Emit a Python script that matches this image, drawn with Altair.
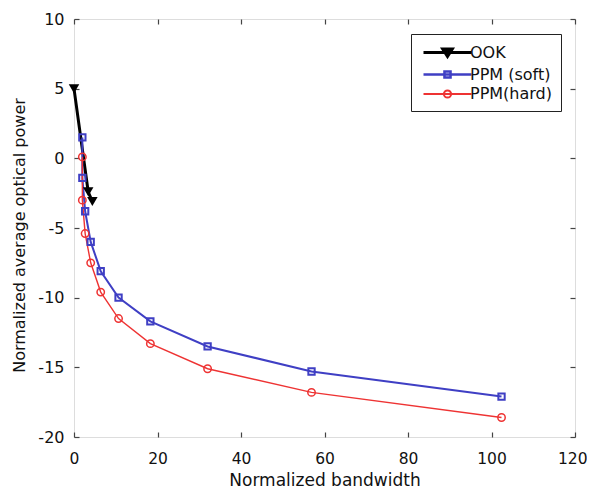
import altair as alt
import pandas as pd

# ---- data ----
x_ticks = [0, 20, 40, 60, 80, 100, 120]
y_ticks = [-20, -15, -10, -5, 0, 5, 10]

ook_bw = [0.0, 3.4, 4.4]
ook_pw = [5.0, -2.4, -3.1]

ppm_bw = [2.0, 2.0, 2.67, 4.0, 6.4, 10.67, 18.29, 32.0, 56.89, 102.4]
soft_pw = [1.5, -1.4, -3.8, -6.0, -8.1, -10.0, -11.7, -13.5, -15.3, -17.1]
hard_pw = [0.1, -3.0, -5.4, -7.5, -9.6, -11.5, -13.3, -15.1, -16.8, -18.6]

series = ["OOK", "PPM (soft)", "PPM(hard)"]
colors = ["#000000", "#3f3fc4", "#ee3333"]

W, H = 501, 418
FONT = "DejaVu Sans"
MINUS = "replace(datum.label, '\u2212', '-')"
LAST_X = "datum.value == 120"

ook_df = pd.DataFrame({"bw": ook_bw, "pw": ook_pw, "i": range(len(ook_bw))})
soft_df = pd.DataFrame({"bw": ppm_bw, "pw": soft_pw, "i": range(len(ppm_bw))})
hard_df = pd.DataFrame({"bw": ppm_bw, "pw": hard_pw, "i": range(len(ppm_bw))})
leg_df = pd.DataFrame({"series": series, "bw": [0.0] * 3, "pw": [0.0] * 3})

xs = alt.Scale(domain=[0, 120], nice=False, zero=False)
ys = alt.Scale(domain=[-20, 10], nice=False, zero=False)

ax_x_main = alt.Axis(orient="bottom", values=x_ticks, ticks=False, domain=False, grid=False,
                     title="Normalized bandwidth", labelPadding=14, titlePadding=6,
                     labelFlush=False, labelExpr=MINUS,
                     labelAlign={"condition": {"test": LAST_X, "value": "right"},
                                 "value": "center"},
                     labelOffset={"condition": {"test": LAST_X, "value": 12}, "value": 0},
                     labelFont=FONT, labelFontSize=15.5, titleFont=FONT, titleFontSize=17,
                     titleFontWeight="normal", labelColor="#111111", titleColor="#111111")
ax_x_in_b = alt.Axis(orient="top", offset=-H, values=x_ticks, labels=False, domain=False,
                     grid=False, title=None, tickSize=5, tickColor="#444444", tickWidth=1.2)
ax_x_in_t = alt.Axis(orient="bottom", offset=-H, values=x_ticks, labels=False, domain=False,
                     grid=False, title=None, tickSize=5, tickColor="#444444", tickWidth=1.2)

ax_y_main = alt.Axis(orient="left", values=y_ticks, ticks=False, domain=False, grid=False,
                     title="Normalized average optical power", labelPadding=10, titlePadding=10,
                     titleY=216,
                     labelFlush=False, labelExpr=MINUS,
                     labelFont=FONT, labelFontSize=16, titleFont=FONT, titleFontSize=16,
                     titleFontWeight="normal", labelColor="#111111", titleColor="#111111")
ax_y_in_l = alt.Axis(orient="right", offset=-W, values=y_ticks, labels=False, domain=False,
                     grid=False, title=None, tickSize=5, tickColor="#444444", tickWidth=1.2)
ax_y_in_r = alt.Axis(orient="left", offset=-W, values=y_ticks, labels=False, domain=False,
                     grid=False, title=None, tickSize=5, tickColor="#444444", tickWidth=1.2)


def xenc(axis):
    return alt.X("bw:Q", scale=xs, axis=axis)


def yenc(axis):
    return alt.Y("pw:Q", scale=ys, axis=axis)


ook_line = alt.Chart(ook_df).mark_line(color=colors[0], strokeWidth=3).encode(
    x=xenc(ax_x_main), y=yenc(ax_y_main), order="i:Q")
ook_pts = alt.Chart(ook_df).mark_point(shape="triangle-down", filled=True, color=colors[0],
                                       size=110, opacity=1).encode(
    x=xenc(ax_x_in_b), y=yenc(ax_y_in_l))

soft_line = alt.Chart(soft_df).mark_line(color=colors[1], strokeWidth=2).encode(
    x=xenc(ax_x_in_t), y=yenc(ax_y_in_r), order="i:Q")
soft_pts = alt.Chart(soft_df).mark_point(shape="square", filled=False, color=colors[1],
                                         size=40, strokeWidth=2, opacity=1).encode(
    x=xenc(None), y=yenc(None))

hard_line = alt.Chart(hard_df).mark_line(color=colors[2], strokeWidth=1.4).encode(
    x=xenc(None), y=yenc(None), order="i:Q")
hard_pts = alt.Chart(hard_df).mark_point(shape="circle", filled=False, color=colors[2],
                                         size=55, strokeWidth=1.5, opacity=1).encode(
    x=xenc(None), y=yenc(None))

# legend symbols: line segment plus marker, as custom paths
paths = [
    "M-3,0H3M-0.6,-0.45L0.6,-0.45L0,0.5Z",
    "M-3,0H3M-0.38,-0.38H0.38V0.38H-0.38Z",
    "M-3,0H3M0.45,0A0.45,0.45,0,1,1,-0.45,0A0.45,0.45,0,1,1,0.45,0Z",
]
leg = alt.Legend(title=None, orient="none", legendX=337, legendY=15, padding=9,
                 strokeColor="#222222", fillColor="white", cornerRadius=0,
                 symbolSize=256, symbolOffset=18, labelOffset=13, rowPadding=2,
                 labelFont=FONT, labelFontSize=16, labelColor="#111111",
                 symbolOpacity=1)
legend_layer = alt.Chart(leg_df).transform_filter("false").mark_point(opacity=1).encode(
    x=xenc(None), y=yenc(None),
    shape=alt.Shape("series:N", scale=alt.Scale(domain=series, range=paths), legend=leg),
    stroke=alt.Stroke("series:N", scale=alt.Scale(domain=series, range=colors), legend=leg),
    fill=alt.Fill("series:N", scale=alt.Scale(domain=series,
                                              range=["#000000", "transparent", "transparent"]),
                  legend=leg),
    strokeWidth=alt.StrokeWidth("series:N", scale=alt.Scale(domain=series, range=[3, 2, 1.4]),
                                legend=leg),
)

chart = alt.layer(
    ook_line, soft_line, hard_line, soft_pts, hard_pts, ook_pts, legend_layer
).resolve_axis(x="independent", y="independent").properties(
    width=W, height=H,
    autosize=alt.AutoSizeParams(type="none"),
    padding={"left": 66, "top": 11, "right": 12, "bottom": 55},
).configure_view(stroke="#333333", strokeWidth=1.5).configure(background="white")

chart.save("out.html", embed_options={"renderer": "svg", "actions": False})
